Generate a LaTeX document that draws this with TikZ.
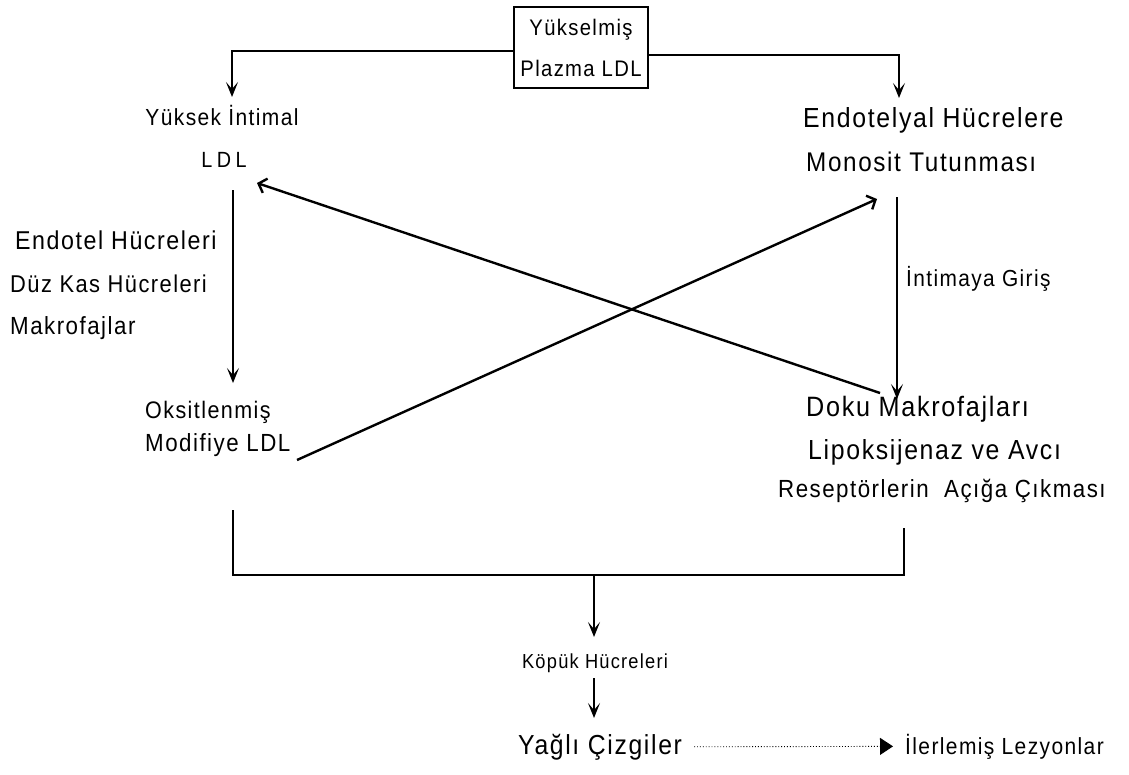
\documentclass[tikz,border=0pt]{standalone}
\usepackage{fontspec}
\setmainfont{Liberation Sans}[FakeStretch=0.9, LetterSpace=6]
\usetikzlibrary{arrows.meta}
\begin{document}
\begin{tikzpicture}[x=1pt,y=-1pt,
  txt/.style={inner sep=0pt, font=\fontsize{#1}{#1}\selectfont},
  conn/.style={line width=1.4pt},
  vhead/.style={conn,-{Stealth[length=15pt,width=12pt,inset=7pt]}},
  dhead/.style={line width=2.4pt,-{Straight Barb[length=7pt,width=15pt]}},
  dotarrow/.style={line width=0.9pt, dotted, -{Triangle[length=13pt,width=17pt]}}
]
\useasboundingbox (0,0) rectangle (1129,774);
% top box
\node[draw, line width=1.2pt, minimum width=134pt, minimum height=81pt, inner sep=0pt,
      align=center, font=\fontsize{22.5}{41}\selectfont] (plz) at (581,47.5) {Yükselmiş\\Plazma LDL};
% left column
\node[txt=23.3, anchor=base] (yil) at (222,125) {Yüksek İntimal};
\node[txt=22, anchor=base] (ldl) at (224,167) {\addfontfeature{LetterSpace=20}LDL};
\node[txt=25.8, anchor=base west] (eh) at (15,249) {Endotel Hücreleri};
\node[txt=24.3, anchor=base west] (dk) at (10,292) {Düz Kas Hücreleri};
\node[txt=24.8, anchor=base west] (mk) at (10,334) {Makrofajlar};
\node[txt=23.9, anchor=base west] (oks) at (145,418) {Oksitlenmiş};
\node[txt=24.8, anchor=base west] (mod) at (145,451) {Modifiye LDL};
% right column
\node[txt=27.6, anchor=base west] (ehc) at (803,127) {Endotelyal Hücrelere};
\node[txt=27, anchor=base west] (mon) at (806,171) {Monosit Tutunması};
\node[txt=23.2, anchor=base west] (int) at (906,286) {İntimaya Giriş};
\node[txt=28, anchor=base west] (doku) at (806,416) {Doku Makrofajları};
\node[txt=27.6, anchor=base west] (lip) at (808,459) {Lipoksijenaz ve Avcı};
\node[txt=24.8, anchor=base west] (res) at (778,497) {Reseptörlerin\ \ Açığa Çıkması};
% bottom
\node[txt=20.3, anchor=base] (kop) at (595,668) {Köpük Hücreleri};
\node[txt=27.5, anchor=base west] (yag) at (518,754) {Yağlı Çizgiler};
\node[txt=23.3, anchor=base west] (ile) at (905,754) {İlerlemiş Lezyonlar};

% coordinates for arrow ends
\coordinate (tl) at (232,97);
\coordinate (tr) at (899,98);
\coordinate (ls) at (233,190);
\coordinate (le) at (233,383);
\coordinate (rs) at (897,197);
\coordinate (re) at (897,399);
\coordinate (d1s) at (880,393);
\coordinate (d1e) at (257,183);
\coordinate (d2s) at (297,460);
\coordinate (d2e) at (877,199);
\coordinate (b1) at (233,510);
\coordinate (b2) at (904,528);
\coordinate (bm) at (594,575);
\coordinate (kt) at (594,637);
\coordinate (k2s) at (594,678);
\coordinate (k2e) at (594,718);

\draw[vhead] ([yshift=-3.5pt]plz.west) -| (tl);
\draw[vhead] ([yshift=-7.5pt]plz.east) -| (tr);
\draw[vhead] (ls) -- (le);
\draw[vhead] (rs) -- (re);
\draw[dhead] (d1s) -- (d1e);
\draw[dhead] (d2s) -- (d2e);
\draw[conn] (b1) |- (bm) -| (b2);
\draw[vhead] (bm) -- (kt);
\draw[vhead] (k2s) -- (k2e);
\draw[dotarrow] ([xshift=12pt]yag.east) -- ([xshift=-12pt]ile.west);
\end{tikzpicture}
\end{document}
